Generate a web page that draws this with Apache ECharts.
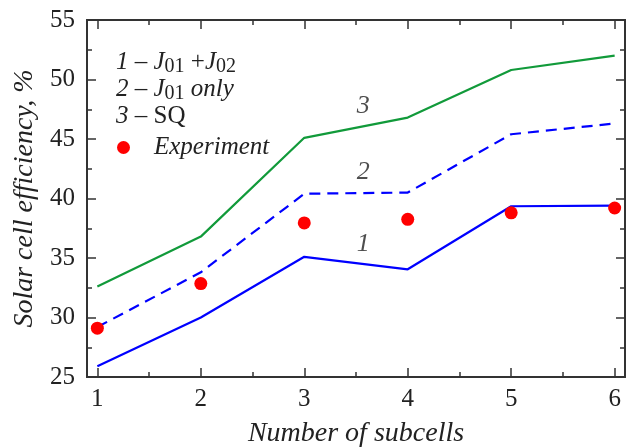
<!DOCTYPE html>
<html><head><meta charset="utf-8">
<script src="https://cdn.jsdelivr.net/npm/echarts@6/dist/echarts.min.js"></script>
<style>html,body{margin:0;padding:0;background:#fff}#c{width:631px;height:447px}</style>
</head><body><div id="c"></div>
<script>
var subcells = [1, 2, 3, 4, 5, 6];
var curve1 = [25.9, 30.0, 35.1, 34.05, 39.35, 39.4];   // 1 – J01+J02
var curve2 = [29.2, 33.8, 40.4, 40.5, 45.4, 46.3];     // 2 – J01 only
var curve3 = [32.6, 36.8, 45.1, 46.8, 50.8, 52.0];     // 3 – SQ
var experiment = [29.1, 32.85, 37.95, 38.25, 38.8, 39.2];
var curveLabels = [['1', 3.57, 36.2], ['2', 3.57, 42.2], ['3', 3.57, 47.8]];
var xMajor = [1, 2, 3, 4, 5, 6];
var xMinor = [1.5, 2.5, 3.5, 4.5, 5.5];

function pairs(ys) { return subcells.map(function (x, i) { return [x, ys[i]]; }); }

var FONT = 'Liberation Serif';
var AX = '#333';
var TXT = '#222';
var chart = echarts.init(document.getElementById('c'));
function xa(pos, ticks, len, labels, extra) {
  var o = {
    type: 'value', position: pos, min: 0.9, max: 6.1,
    axisLine: { show: true, lineStyle: { color: AX, width: 2 } },
    axisTick: { show: true, inside: true, length: len, customValues: ticks, lineStyle: { color: AX, width: 1.5 } },
    axisLabel: labels ? { show: true, customValues: ticks, fontFamily: FONT, fontSize: 25, color: TXT, margin: 10 } : { show: false },
    splitLine: { show: false }
  };
  if (extra) for (var k in extra) o[k] = extra[k];
  return o;
}
function ya(pos, labels, extra) {
  var o = {
    type: 'value', position: pos, min: 25, max: 55, interval: 5,
    axisLine: { show: true, lineStyle: { color: AX, width: 2 } },
    axisTick: { show: true, inside: true, length: 9, lineStyle: { color: AX, width: 1.5 } },
    minorTick: { show: true, splitNumber: 2, length: 5, lineStyle: { color: AX, width: 1.5 } },
    axisLabel: labels ? { show: true, fontFamily: FONT, fontSize: 25, color: TXT, margin: 12 } : { show: false },
    splitLine: { show: false }
  };
  if (extra) for (var k in extra) o[k] = extra[k];
  return o;
}

chart.setOption({
  animation: false,
  grid: { left: 87, top: 20, right: 6, bottom: 70, containLabel: false, outerBoundsMode: 'none' },
  xAxis: [
    xa('bottom', xMajor, 9, true, { name: 'Number of subcells', nameLocation: 'middle', nameGap: 43,
      nameTextStyle: { fontFamily: FONT, fontSize: 28, fontStyle: 'italic', color: TXT } }),
    xa('bottom', xMinor, 5, false),
    xa('top', xMajor, 9, false),
    xa('top', xMinor, 5, false)
  ],
  yAxis: [
    ya('left', true, { name: 'Solar cell efficiency, %', nameLocation: 'middle', nameGap: 48,
      nameTextStyle: { fontFamily: FONT, fontSize: 28, fontStyle: 'italic', color: TXT } }),
    ya('right', false)
  ],
  legend: {
    data: [{ name: 'Experiment', icon: 'circle' }],
    left: 112, top: 130, itemWidth: 13, itemHeight: 13,
    textStyle: { fontFamily: FONT, fontSize: 25, fontStyle: 'italic', color: TXT, padding: [0, 0, 0, 19] }
  },
  graphic: [{
    type: 'text', left: 116, top: 48, z: 10,
    style: {
      rich: {
        n: { fontFamily: FONT, fontSize: 25, fill: TXT, lineHeight: 27 },
        i: { fontFamily: FONT, fontSize: 25, fontStyle: 'italic', fill: TXT, lineHeight: 27 },
        s: { fontFamily: FONT, fontSize: 20, fill: TXT, lineHeight: 27, padding: [9, 0, 0, 0] }
      },
      text: '{i|1 }{n|– }{i|J}{s|01}{n| +}{i|J}{s|02}\n{i|2 }{n|– }{i|J}{s|01}{i| only}\n{i|3 }{n|– SQ}'
    }
  }],
  series: [
    { name: '1', type: 'line', data: pairs(curve1), symbol: 'none', lineStyle: { color: '#0000ff', width: 2.2 }, z: 2 },
    { name: '2', type: 'line', data: pairs(curve2), symbol: 'none', lineStyle: { color: '#0000ff', width: 2.2, type: [11, 7] }, z: 2 },
    { name: '3', type: 'line', data: pairs(curve3), symbol: 'none', lineStyle: { color: '#119a3a', width: 2.2 }, z: 2 },
    { name: 'Experiment', type: 'scatter', data: pairs(experiment), symbol: 'circle', symbolSize: 13, itemStyle: { color: '#ff0000', opacity: 1 }, z: 3 },
    { name: 'labels', type: 'scatter', symbolSize: 0, silent: true,
      data: curveLabels.map(function (d) { return { name: d[0], value: [d[1], d[2]] }; }),
      label: { show: true, position: 'inside', formatter: '{b}', fontFamily: FONT, fontSize: 26, fontStyle: 'italic', color: TXT } }
  ]
});
</script></body></html>
